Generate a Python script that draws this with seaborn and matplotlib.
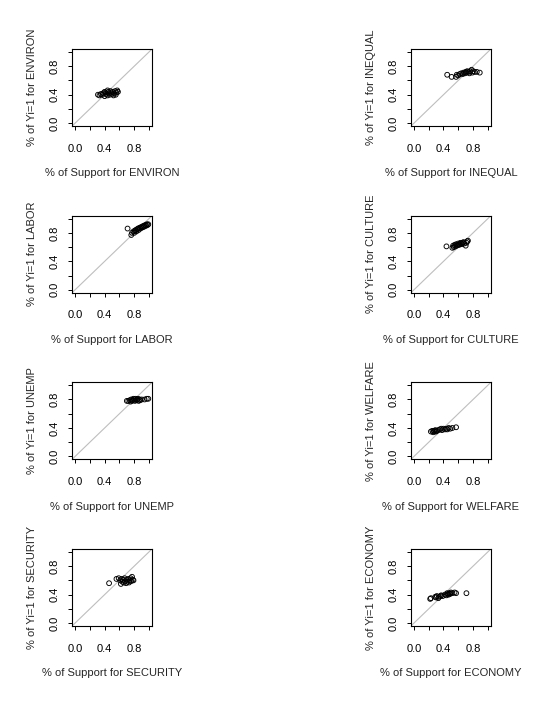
import numpy as np
import pandas as pd
import seaborn as sns
import matplotlib
matplotlib.use("Agg")
import matplotlib.pyplot as plt

# -------------------------------------------------------------------
# Data: share of support (x) vs. share of Yi=1 (y), one list per issue
# -------------------------------------------------------------------
issues = ["ENVIRON", "INEQUAL", "LABOR", "CULTURE",
          "UNEMP", "WELFARE", "SECURITY", "ECONOMY"]

environ_x = [0.31, 0.33, 0.35, 0.37, 0.38, 0.40, 0.41, 0.42, 0.44, 0.45, 0.46, 0.47, 0.48,
             0.49, 0.50, 0.51, 0.52, 0.53, 0.54, 0.55, 0.56, 0.57, 0.58, 0.44, 0.40]
environ_y = [0.40, 0.39, 0.41, 0.40, 0.42, 0.38, 0.43, 0.41, 0.39, 0.44, 0.42, 0.40, 0.45,
             0.43, 0.41, 0.44, 0.39, 0.42, 0.45, 0.40, 0.43, 0.46, 0.44, 0.46, 0.44]

inequal_x = [0.45, 0.51, 0.57, 0.58, 0.60, 0.62, 0.64, 0.66, 0.67, 0.69, 0.70, 0.71, 0.72,
             0.74, 0.75, 0.76, 0.78, 0.79, 0.80, 0.82, 0.85, 0.89]
inequal_y = [0.68, 0.65, 0.65, 0.68, 0.67, 0.69, 0.70, 0.69, 0.71, 0.70, 0.72, 0.71, 0.73,
             0.72, 0.70, 0.73, 0.75, 0.71, 0.73, 0.72, 0.72, 0.71]

labor_x = [0.71, 0.76, 0.77, 0.79, 0.80, 0.81, 0.82, 0.83, 0.84, 0.85, 0.86, 0.87, 0.88,
           0.89, 0.90, 0.91, 0.92, 0.93, 0.94, 0.95, 0.96, 0.97, 0.98, 0.99]
labor_y = [0.86, 0.77, 0.80, 0.82, 0.80, 0.83, 0.84, 0.82, 0.85, 0.86, 0.84, 0.87, 0.86,
           0.88, 0.87, 0.89, 0.88, 0.90, 0.89, 0.91, 0.90, 0.92, 0.91, 0.92]

culture_x = [0.44, 0.52, 0.53, 0.54, 0.55, 0.56, 0.57, 0.58, 0.59, 0.60, 0.61, 0.62, 0.63,
             0.64, 0.65, 0.66, 0.67, 0.68, 0.70, 0.71, 0.72, 0.73]
culture_y = [0.61, 0.59, 0.62, 0.60, 0.63, 0.61, 0.64, 0.62, 0.63, 0.65, 0.63, 0.64, 0.66,
             0.65, 0.64, 0.66, 0.67, 0.65, 0.62, 0.66, 0.68, 0.69]

unemp_x = [0.70, 0.72, 0.74, 0.75, 0.76, 0.77, 0.78, 0.79, 0.80, 0.81, 0.82, 0.83, 0.84,
           0.85, 0.86, 0.87, 0.88, 0.90, 0.94, 0.97, 0.99]
unemp_y = [0.78, 0.78, 0.79, 0.77, 0.80, 0.78, 0.79, 0.81, 0.80, 0.78, 0.81, 0.79, 0.80,
           0.81, 0.78, 0.80, 0.79, 0.80, 0.80, 0.81, 0.81]

welfare_x = [0.23, 0.25, 0.26, 0.27, 0.28, 0.29, 0.30, 0.31, 0.33, 0.35, 0.37, 0.38, 0.40,
             0.42, 0.44, 0.45, 0.47, 0.49, 0.52, 0.57]
welfare_y = [0.35, 0.36, 0.34, 0.36, 0.35, 0.37, 0.35, 0.36, 0.37, 0.38, 0.39, 0.37, 0.39,
             0.38, 0.39, 0.38, 0.40, 0.39, 0.40, 0.41]

security_x = [0.46, 0.56, 0.59, 0.61, 0.62, 0.63, 0.64, 0.65, 0.66, 0.67, 0.68, 0.69, 0.70,
              0.71, 0.72, 0.73, 0.74, 0.75, 0.76, 0.77, 0.78, 0.79]
security_y = [0.56, 0.62, 0.63, 0.60, 0.55, 0.62, 0.58, 0.61, 0.57, 0.63, 0.59, 0.56, 0.61,
              0.58, 0.62, 0.57, 0.60, 0.63, 0.59, 0.65, 0.61, 0.60]

economy_x = [0.22, 0.23, 0.29, 0.30, 0.31, 0.33, 0.34, 0.36, 0.37, 0.39, 0.42, 0.44, 0.45,
             0.46, 0.47, 0.48, 0.49, 0.50, 0.52, 0.55, 0.57, 0.71]
economy_y = [0.34, 0.35, 0.37, 0.36, 0.38, 0.35, 0.37, 0.38, 0.39, 0.38, 0.40, 0.39, 0.42,
             0.41, 0.40, 0.42, 0.41, 0.43, 0.42, 0.43, 0.42, 0.42]

xs = [environ_x, inequal_x, labor_x, culture_x, unemp_x, welfare_x, security_x, economy_x]
ys = [environ_y, inequal_y, labor_y, culture_y, unemp_y, welfare_y, security_y, economy_y]

tick_pos = [0.0, 0.2, 0.4, 0.6, 0.8, 1.0]
tick_lab = ["0.0", "", "0.4", "", "0.8", ""]

# -------------------------------------------------------------------
# Plotting
# -------------------------------------------------------------------
sns.set_theme(style="ticks")
plt.rcParams["font.family"] = ["Liberation Sans", "DejaVu Sans"]

fig, axes = plt.subplots(4, 2, figsize=(5.46, 7.22), dpi=100)
plt.subplots_adjust(left=0.132, right=0.899, top=0.932, bottom=0.133,
                    wspace=3.24, hspace=1.165)

for ax, name, x, y in zip(axes.flat, issues, xs, ys):
    df = pd.DataFrame({"x": x, "y": y})
    ax.axline((0, 0), slope=1, color="#bebebe", lw=0.8, zorder=1)
    sns.scatterplot(data=df, x="x", y="y", ax=ax, color="none",
                    edgecolor="black", linewidth=0.65, s=12, zorder=3)
    ax.set_xlim(-0.04, 1.04)
    ax.set_ylim(-0.04, 1.04)
    ax.set_xticks(tick_pos)
    ax.set_xticklabels(tick_lab)
    ax.set_yticks(tick_pos)
    ax.set_yticklabels(tick_lab, rotation=90, va="center")
    ax.tick_params(axis="both", length=3.2, width=0.7, labelsize=8, colors="black")
    ax.tick_params(axis="x", pad=9.5)
    ax.tick_params(axis="y", pad=6)
    for sp in ax.spines.values():
        sp.set_visible(True)
        sp.set_linewidth(0.8)
        sp.set_color("black")
    ax.set_xlabel(f"% of Support for {name}", fontsize=8, labelpad=10.5)
    ax.set_ylabel(f"% of Yi=1 for {name}", fontsize=8, labelpad=8.5)

plt.savefig("out.png", dpi=100)
